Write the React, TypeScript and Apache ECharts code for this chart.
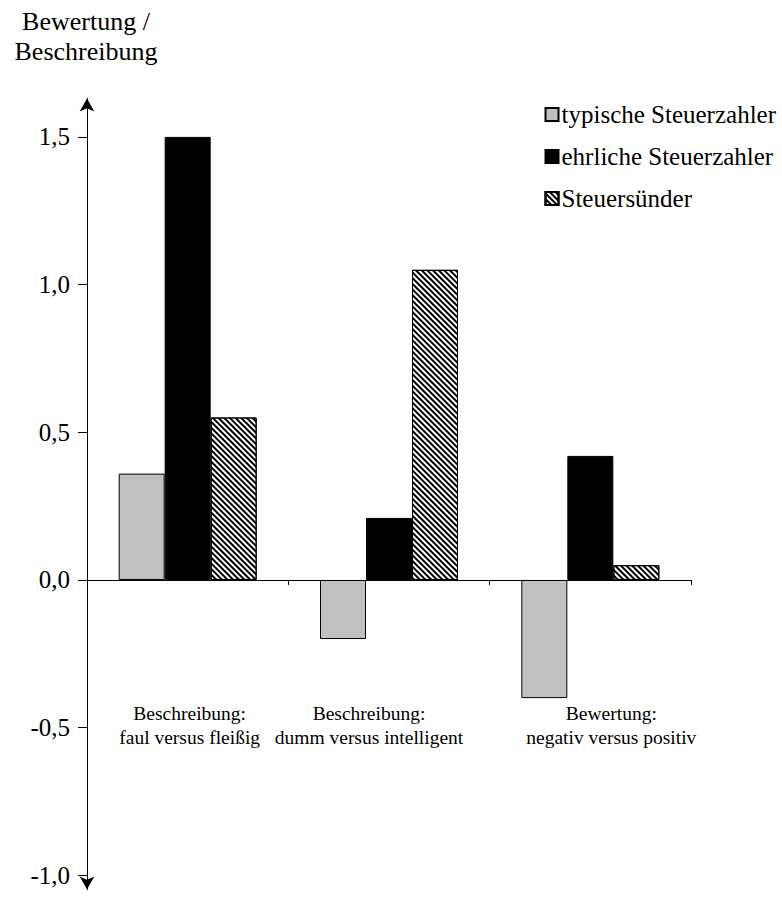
import React, { useEffect, useRef } from "react";
import * as echarts from "echarts";

const categories = [
  "Beschreibung:\nfaul versus fleißig",
  "Beschreibung:\ndumm versus intelligent",
  "Bewertung:\nnegativ versus positiv",
];
const seriesNames = ["typische Steuerzahler", "ehrliche Steuerzahler", "Steuersünder"];
const typischeValues = [0.36, -0.2, -0.4];
const ehrlicheValues = [1.5, 0.21, 0.42];
const suenderValues = [0.55, 1.05, 0.05];
const yTicks = [-1, -0.5, 0, 0.5, 1, 1.5];
const yTitle = "Bewertung /\nBeschreibung";

const FONT = "'Liberation Serif', 'Times New Roman', serif";

// horizontal nudges of the category labels (padding in px)
const labelPaddings = [
  [0, 0, 0, 4],
  [0, 40, 0, 0],
  [0, 0, 0, 42],
];

export default function App() {
  const ref = useRef<HTMLDivElement>(null);
  useEffect(() => {
    if (!ref.current) return;
    const chart = echarts.init(ref.current, null, { renderer: "svg" });
    const border = { borderColor: "#000", borderWidth: 1 };
    chart.setOption({
      animation: false,
      backgroundColor: "#fff",
      textStyle: { fontFamily: FONT, color: "#000" },
      graphic: [
        {
          type: "text",
          x: 86,
          y: 6,
          style: {
            text: yTitle,
            textAlign: "center",
            font: `26px ${FONT}`,
            lineHeight: 30,
            fill: "#000",
          },
        },
      ],
      legend: {
        orient: "vertical",
        right: 1,
        top: 97,
        itemWidth: 13,
        itemHeight: 13,
        itemGap: 17,
        icon: "rect",
        textStyle: {
          fontFamily: FONT,
          fontSize: 25,
          lineHeight: 25,
          color: "#000",
          padding: [0, 0, 0, -2],
        },
        data: seriesNames,
      },
      grid: {
        left: 87,
        right: 91,
        top: 98.5,
        bottom: 8.5,
        containLabel: false,
        outerBoundsMode: "none",
      },
      xAxis: {
        type: "category",
        data: categories.map((c, i) => ({ value: c, textStyle: { padding: labelPaddings[i] } })),
        axisLine: { show: true, onZero: true, lineStyle: { color: "#000", width: 1 } },
        axisTick: { show: true, inside: false, length: 5, lineStyle: { color: "#000" } },
        axisLabel: {
          interval: 0,
          margin: -188,
          fontFamily: FONT,
          fontSize: 19.5,
          lineHeight: 24,
          color: "#000",
          hideOverlap: false,
        },
        splitLine: { show: false },
      },
      yAxis: {
        type: "value",
        min: -1.048,
        max: 1.63,
        splitLine: { show: false },
        axisLine: {
          show: true,
          lineStyle: { color: "#000", width: 1 },
          symbol: ["arrow", "arrow"],
          symbolSize: [11, 13],
        },
        axisTick: {
          show: true,
          inside: false,
          length: 9,
          lineStyle: { color: "#000" },
          customValues: yTicks,
        },
        axisLabel: {
          margin: 17,
          fontFamily: FONT,
          fontSize: 25,
          color: "#000",
          customValues: yTicks,
          formatter: (v: number) => v.toFixed(1).replace(".", ","),
        },
      },
      series: [
        {
          name: seriesNames[0],
          type: "bar",
          data: typischeValues,
          barWidth: 46,
          barGap: "0%",
          itemStyle: { color: "#c0c0c0", ...border },
        },
        {
          name: seriesNames[1],
          type: "bar",
          data: ehrlicheValues,
          barWidth: 46,
          barGap: "0%",
          itemStyle: { color: "#000", ...border },
        },
        {
          name: seriesNames[2],
          type: "bar",
          data: suenderValues,
          barWidth: 46,
          barGap: "0%",
          itemStyle: {
            color: "#fff",
            ...border,
            decal: {
              symbol: "rect",
              symbolSize: 1,
              color: "#000",
              dashArrayX: [1, 0],
              dashArrayY: [2, 2],
              rotation: Math.PI / 4,
            },
          },
        },
      ],
    });
    return () => chart.dispose();
  }, []);
  return <div ref={ref} style={{ width: 782, height: 898, position: "absolute", left: 0, top: 0 }} />;
}
